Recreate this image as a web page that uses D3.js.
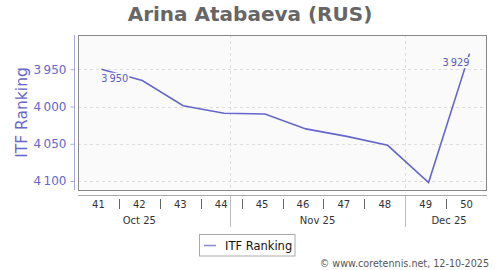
<!DOCTYPE html>
<html><head><meta charset="utf-8">
<script src="https://cdn.jsdelivr.net/npm/d3@7"></script>
<style>html,body{margin:0;padding:0;background:#fff;}svg{display:block;font-family:"DejaVu Sans",sans-serif;}</style>
</head><body>
<svg id="chart" width="500" height="270"></svg>
<script>
const title = "Arina Atabaeva (RUS)";
const yLabel = "ITF Ranking";
const seriesName = "ITF Ranking";
const credit = "© www.coretennis.net, 12-10-2025";
const dates = ["2025-10-10","2025-10-17","2025-10-24","2025-10-31","2025-11-07","2025-11-14","2025-11-21","2025-11-28","2025-12-05","2025-12-12"];
const ranks = [3950, 3965, 3999, 4009, 4010, 4030, 4040, 4052, 4102, 3929];
const weekNumbers = [41,42,43,44,45,46,47,48,49,50];
const weekStarts = ["2025-10-06","2025-10-13","2025-10-20","2025-10-27","2025-11-03","2025-11-10","2025-11-17","2025-11-24","2025-12-01","2025-12-08"];
const monthLabels = ["Oct 25","Nov 25","Dec 25"];
const monthLabelDates = ["2025-10-16T12:00","2025-11-16","2025-12-08T12:00"];
const monthStarts = ["2025-11-01","2025-12-01"];
const yTicks = [3950, 4000, 4050, 4100];
const xDomain = ["2025-10-06","2025-12-15"];
const yDomain = [3904, 4112];
const labeledPoints = [0, 9];

const P = s => new Date(s.length > 10 ? s + "Z" : s + "T00:00Z");
const svg = d3.select("#chart");
const L = 78, R = 487, T = 35, B = 190;
const x = d3.scaleUtc().domain(xDomain.map(P)).range([L, R]);
const y = d3.scaleLinear().domain(yDomain).range([T, B]);
const loc = d3.formatLocale({decimal: ".", thousands: "\u2009", grouping: [3], currency: ["", ""]});
const fmt = loc.format(",d");
const purple = "#6666cc";

// title
svg.append("text").attr("x", 250).attr("y", 21).attr("text-anchor", "middle")
  .attr("font-size", 20).attr("font-weight", "bold").attr("fill", "#666").text(title);

// plot background
svg.append("rect").attr("x", L).attr("y", T).attr("width", R - L).attr("height", B - T)
  .attr("fill", "#fafafa");

// grids
svg.append("g").selectAll("line").data(yTicks).join("line")
  .attr("x1", L).attr("x2", R).attr("y1", d => Math.round(y(d)) + 0.5).attr("y2", d => Math.round(y(d)) + 0.5)
  .attr("stroke", "#ddd").attr("stroke-dasharray", "3,3");
svg.append("g").selectAll("line").data(monthStarts).join("line")
  .attr("x1", d => Math.round(x(P(d))) + 0.5).attr("x2", d => Math.round(x(P(d))) + 0.5)
  .attr("y1", T).attr("y2", B).attr("stroke", "#ddd").attr("stroke-dasharray", "3,3");

// frame
svg.append("rect").attr("x", L + 0.5).attr("y", T + 0.5).attr("width", R - L - 1).attr("height", B - T)
  .attr("fill", "none").attr("stroke", "#888");

// y axis
const yAxis = d3.axisLeft(y).tickValues(yTicks).tickFormat(fmt).tickSize(4).tickPadding(4);
const gy = svg.append("g").attr("transform", "translate(74.5,0)").call(yAxis);
gy.select(".domain").attr("stroke", "#aaaadd").attr("d", `M0,${T}V${B}`);
gy.selectAll(".tick line").attr("stroke", "#aaaadd");
gy.selectAll(".tick text").attr("fill", purple).attr("font-size", 12).attr("font-family", "DejaVu Sans");

svg.append("text").attr("transform", `translate(26.5,${(T + B) / 2 + 0}) rotate(-90)`)
  .attr("text-anchor", "middle").attr("font-size", 15.5).attr("fill", purple).text(yLabel);

// x axis line
svg.append("line").attr("x1", L).attr("x2", R).attr("y1", 195.5).attr("y2", 195.5).attr("stroke", "#aaa");
// week labels
const weekMid = d => new Date(P(d).getTime() + 3.5 * 864e5);
svg.append("g").selectAll("text").data(weekNumbers).join("text")
  .attr("x", (d, i) => x(weekMid(weekStarts[i]))).attr("y", 208)
  .attr("text-anchor", "middle").attr("font-size", 10).attr("fill", "#333").text(d => d);
// week separators
svg.append("g").selectAll("line").data(weekStarts.slice(1)).join("line")
  .attr("x1", d => Math.round(x(P(d))) + 0.5).attr("x2", d => Math.round(x(P(d))) + 0.5)
  .attr("y1", 199).attr("y2", 209).attr("stroke", "#666");
// month separators
svg.append("g").selectAll("line").data(monthStarts).join("line")
  .attr("x1", d => Math.round(x(P(d))) + 0.5).attr("x2", d => Math.round(x(P(d))) + 0.5)
  .attr("y1", 196).attr("y2", 227).attr("stroke", "#bbb");
// month labels
svg.append("g").selectAll("text").data(monthLabels).join("text")
  .attr("x", (d, i) => x(P(monthLabelDates[i]))).attr("y", 224)
  .attr("text-anchor", "middle").attr("font-size", 10).attr("fill", "#333").text(d => d);

// series
const pts = dates.map((d, i) => ({date: P(d), v: ranks[i]}));
const line = d3.line().x(d => x(d.date)).y(d => y(d.v));
svg.append("path").datum(pts).attr("d", line).attr("fill", "none")
  .attr("stroke", purple).attr("stroke-width", 1.6);

// data labels
const lg = svg.append("g");
labeledPoints.forEach(i => {
  const p = pts[i];
  const anchor = i === 0 ? "start" : "end";
  const t = lg.append("text").attr("x", x(p.date)).attr("y", y(p.v) + 12.5)
    .attr("text-anchor", anchor).attr("font-size", 9.8).attr("fill", "#5a5ac0").text(fmt(p.v));
  const bb = t.node().getBBox();
  lg.insert("rect", "text").attr("x", bb.x - 1).attr("y", bb.y).attr("width", bb.width + 2)
    .attr("height", bb.height).attr("fill", "#fafafa");
});

// legend
svg.append("rect").attr("x", 199.5).attr("y", 234.5).attr("width", 95.5).attr("height", 21.5)
  .attr("fill", "#fff").attr("stroke", "#aaa");
svg.append("line").attr("x1", 204).attr("x2", 216).attr("y1", 245.5).attr("y2", 245.5)
  .attr("stroke", "#8888dd").attr("stroke-width", 1.5);
svg.append("text").attr("x", 225).attr("y", 250).attr("font-size", 11.5).attr("fill", "#111").text(seriesName);

// credit
svg.append("text").attr("x", 489).attr("y", 267).attr("text-anchor", "end")
  .attr("font-size", 9.6).attr("fill", "#555").text(credit);
</script>
</body></html>
